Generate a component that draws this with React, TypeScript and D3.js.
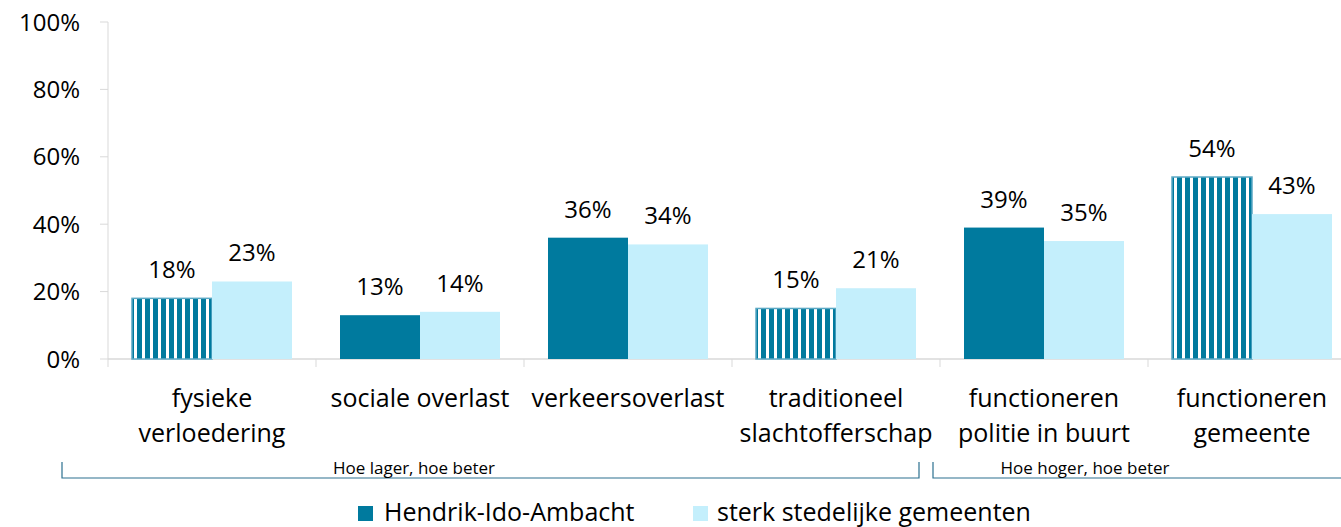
import React from "react";
import * as d3 from "d3";

const categories: string[][] = [
  ["fysieke", "verloedering"],
  ["sociale overlast"],
  ["verkeersoverlast"],
  ["traditioneel", "slachtofferschap"],
  ["functioneren", "politie in buurt"],
  ["functioneren", "gemeente"],
];
const hendrik: number[] = [18, 13, 36, 15, 39, 54];
const stedelijk: number[] = [23, 14, 34, 21, 35, 43];
const hatched: boolean[] = [true, false, false, true, false, true];
const yTicks: number[] = [0, 20, 40, 60, 80, 100];
const seriesNames: string[] = ["Hendrik-Ido-Ambacht", "sterk stedelijke gemeenten"];
const groups = [
  { label: "Hoe lager, hoe beter", from: 0, to: 3 },
  { label: "Hoe hoger, hoe beter", from: 4, to: 5 },
];

const TEAL = "#007A9E";
const LIGHT = "#C4EFFC";
const FONT = "'Open Sans', sans-serif";

export default function App() {
  const W = 1341;
  const H = 527;
  const left = 108;
  const bandRight = 1356;
  const top = 22;
  const bottom = 359;

  const idx = categories.map((_, i) => String(i));
  const x = d3.scaleBand<string>().domain(idx).range([left, bandRight]).paddingInner(0).paddingOuter(0);
  const bw = x.bandwidth();
  const barW = 80;
  const x1 = d3.scaleBand<string>().domain(["a", "b"]).range([bw / 2 - barW, bw / 2 + barW]).padding(0);
  const y = d3.scaleLinear().domain([0, 100]).range([bottom, top]);

  return (
    <svg width={W} height={H} style={{ display: "block", position: "absolute", left: 0, top: 0 }} fontFamily={FONT}>
      <defs>
        <pattern id="stripes" patternUnits="userSpaceOnUse" width={8} height={8} x={1} y={0}>
          <rect x={0} y={0} width={8} height={8} fill="#ffffff" />
          <rect x={0} y={0} width={5} height={8} fill={TEAL} />
        </pattern>
      </defs>
      <rect x={0} y={0} width={W} height={H} fill="#fff" />

      {/* y axis */}
      <line x1={left} x2={left} y1={top} y2={bottom + 8} stroke="#D9D9D9" strokeWidth={1} />
      {yTicks.map((t) => (
        <g key={t}>
          <line x1={left - 8} x2={left} y1={y(t)} y2={y(t)} stroke="#D9D9D9" />
          <text x={80} y={y(t)} dy="0.36em" textAnchor="end" fontSize={24} fill="#000">
            {t}%
          </text>
        </g>
      ))}
      {/* x axis */}
      <line x1={left} x2={W} y1={bottom} y2={bottom} stroke="#D9D9D9" strokeWidth={1.5} />
      {idx.map((k) => (
        <line key={k} x1={(x(k) as number) + bw} x2={(x(k) as number) + bw} y1={bottom} y2={bottom + 8} stroke="#D9D9D9" />
      ))}

      {/* bars */}
      {idx.map((k, i) => {
        const gx = x(k) as number;
        const ax = gx + (x1("a") as number);
        const bx = gx + (x1("b") as number);
        const ha = hendrik[i];
        const sb = stedelijk[i];
        return (
          <g key={k}>
            <rect
              x={ax}
              y={y(ha)}
              width={barW}
              height={y(0) - y(ha)}
              fill={hatched[i] ? "url(#stripes)" : TEAL}
              stroke={hatched[i] ? "#5BA8C4" : "none"}
              strokeWidth={1.5}
            />
            <rect x={bx} y={y(sb)} width={barW} height={y(0) - y(sb)} fill={LIGHT} />
            <text x={ax + barW / 2} y={y(ha) - 20} textAnchor="middle" fontSize={24} fill="#000">
              {ha}%
            </text>
            <text x={bx + barW / 2} y={y(sb) - 20} textAnchor="middle" fontSize={24} fill="#000">
              {sb}%
            </text>
            {categories[i].map((line, j) => (
              <text key={j} x={gx + bw / 2} y={398 + j * 35} dy="0.36em" textAnchor="middle" fontSize={25} fill="#000">
                {line}
              </text>
            ))}
          </g>
        );
      })}

      {/* group brackets */}
      {groups.map((g, i) => {
        const x0 = i === 0 ? 62 : (x(String(g.from)) as number) - 7;
        const xe = i === 0 ? (x(String(g.to)) as number) + bw - 21 : W + 10;
        return (
          <g key={i}>
            <path
              d={`M${x0},462 V478 H${xe}${i === 0 ? " V462" : ""}`}
              fill="none"
              stroke="#2C7190"
              strokeWidth={1.2}
            />
            <text x={i === 0 ? 414 : 1085} y={474} textAnchor="middle" fontSize={17} fill="#000">
              {g.label}
            </text>
          </g>
        );
      })}

      {/* legend */}
      <rect x={358} y={506} width={15} height={15} fill={TEAL} />
      <text x={384} y={521} fontSize={25} fill="#000">
        {seriesNames[0]}
      </text>
      <rect x={693} y={506} width={15} height={15} fill={LIGHT} />
      <text x={717} y={521} fontSize={25} fill="#000">
        {seriesNames[1]}
      </text>
    </svg>
  );
}
